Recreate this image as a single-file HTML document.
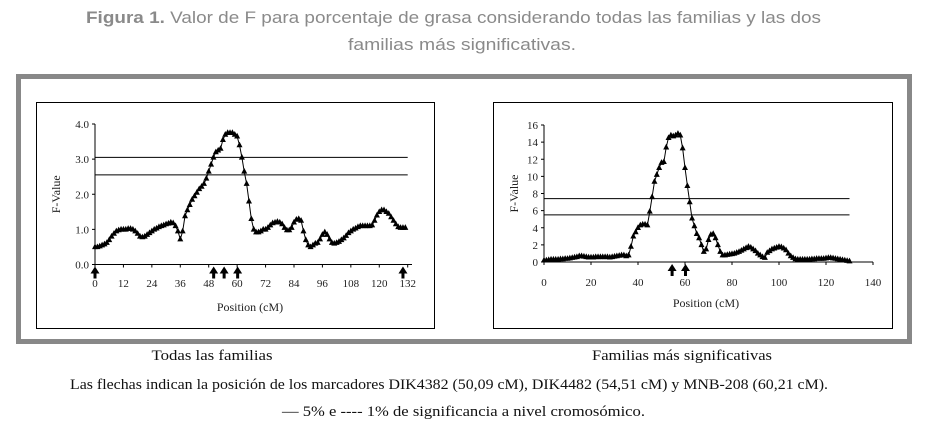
<!DOCTYPE html>
<html><head><meta charset="utf-8"><style>
html,body{margin:0;padding:0;background:#fff;}
svg{display:block;}
</style></head><body>
<svg id="fig" width="928" height="426" viewBox="0 0 928 426" xmlns="http://www.w3.org/2000/svg">
  <text x="86" y="23" textLength="735" lengthAdjust="spacingAndGlyphs" font-family="Liberation Sans, sans-serif" font-size="17" fill="#8a8a8a"><tspan font-weight="bold">Figura 1.</tspan> Valor de F para porcentaje de grasa considerando todas las familias y las dos</text>
  <text x="348" y="50" textLength="228" lengthAdjust="spacingAndGlyphs" font-family="Liberation Sans, sans-serif" font-size="17" fill="#8a8a8a">familias más significativas.</text>
  <rect x="18.5" y="76.5" width="891" height="265" fill="none" stroke="#888" stroke-width="5"/>
  <rect x="36.5" y="102.5" width="398" height="226" fill="#fff" stroke="#000" stroke-width="1"/>
  <rect x="493.5" y="102.5" width="399" height="226" fill="#fff" stroke="#000" stroke-width="1"/>
  <g id="left"></g>
  <g id="right"></g>
  <text x="212" y="360" text-anchor="middle" textLength="121" lengthAdjust="spacingAndGlyphs" font-family="Liberation Serif, serif" font-size="15" fill="#111">Todas las familias</text>
  <text x="682" y="360" text-anchor="middle" textLength="180" lengthAdjust="spacingAndGlyphs" font-family="Liberation Serif, serif" font-size="15" fill="#111">Familias más significativas</text>
  <text x="70" y="389" textLength="758" lengthAdjust="spacingAndGlyphs" font-family="Liberation Serif, serif" font-size="15" fill="#111">Las flechas indican la posición de los marcadores DIK4382 (50,09 cM), DIK4482 (54,51 cM) y MNB-208 (60,21 cM).</text>
  <text x="282" y="416" textLength="363" lengthAdjust="spacingAndGlyphs" font-family="Liberation Serif, serif" font-size="15" fill="#111">— 5% e ---- 1% de significancia a nivel cromosómico.</text>
</svg>
<script>
const leftPositions = [];
for (let i = 0; i <= 131; i++) leftPositions.push(i);
const leftValues = [0.5,0.5,0.52,0.55,0.58,0.62,0.7,0.8,0.88,0.95,0.98,1.0,1.0,1.0,1.02,1.02,1.0,0.95,0.88,0.8,0.78,0.8,0.85,0.9,0.95,1.0,1.03,1.07,1.1,1.12,1.15,1.17,1.2,1.18,1.1,0.95,0.72,0.95,1.38,1.55,1.7,1.85,1.95,2.05,2.15,2.22,2.3,2.45,2.65,2.85,3.05,3.2,3.25,3.3,3.55,3.7,3.75,3.75,3.75,3.7,3.65,3.4,3.05,2.65,2.3,1.8,1.3,1.0,0.92,0.92,0.95,1.0,1.0,1.05,1.12,1.18,1.2,1.22,1.2,1.15,1.05,0.98,0.98,1.05,1.2,1.28,1.3,1.25,0.95,0.7,0.55,0.5,0.55,0.6,0.62,0.72,0.85,0.92,0.85,0.72,0.62,0.6,0.62,0.65,0.7,0.75,0.82,0.9,0.95,1.0,1.03,1.07,1.1,1.1,1.1,1.1,1.1,1.12,1.25,1.4,1.5,1.55,1.55,1.5,1.45,1.35,1.25,1.15,1.07,1.05,1.05,1.05];
const leftTicks = [0,12,24,36,48,60,72,84,96,108,120,132];
const leftYTicks = [0,1,2,3,4];
const leftThresholds = [3.05,2.55];
const leftArrows = [0,50.09,54.51,60.21,130];

const rightPositions = [];
for (let i = 0; i <= 130; i++) rightPositions.push(i);
const rightValues = [0.2,0.2,0.25,0.3,0.3,0.3,0.3,0.35,0.35,0.4,0.4,0.45,0.5,0.55,0.6,0.7,0.7,0.65,0.6,0.55,0.55,0.55,0.6,0.6,0.6,0.6,0.6,0.6,0.55,0.6,0.65,0.7,0.75,0.8,0.8,0.7,0.8,1.8,3.0,3.5,4.0,4.3,4.4,4.4,4.3,5.9,7.6,9.4,10.2,11.0,11.6,11.7,13.4,14.5,14.8,14.7,14.8,15.0,14.8,13.3,11.0,8.9,7.0,5.1,4.2,3.3,2.8,2.0,1.2,1.5,2.6,3.2,3.3,2.8,2.0,1.2,0.8,0.8,0.85,0.9,0.95,1.0,1.1,1.2,1.35,1.5,1.65,1.8,1.7,1.5,1.3,1.0,0.8,0.6,0.5,1.1,1.3,1.5,1.6,1.7,1.8,1.75,1.6,1.4,1.0,0.7,0.5,0.35,0.3,0.3,0.3,0.3,0.3,0.3,0.35,0.35,0.4,0.4,0.4,0.4,0.45,0.5,0.5,0.45,0.4,0.35,0.3,0.25,0.2,0.15,0.1];
const rightTicks = [0,20,40,60,80,100,120,140];
const rightYTicks = [0,2,4,6,8,10,12,14,16];
const rightThresholds = [7.4,5.5];
const rightArrows = [54.51,60.21];

const NS = 'http://www.w3.org/2000/svg';
function mk(parent, tag, attrs) {
  const e = document.createElementNS(NS, tag);
  for (const k in attrs) e.setAttribute(k, attrs[k]);
  parent.appendChild(e);
  return e;
}

function drawChart(g, cfg) {
  const xs = v => cfg.x0 + (v - cfg.xmin) * (cfg.x1 - cfg.x0) / (cfg.xmax - cfg.xmin);
  const ys = v => cfg.y0 - (v - cfg.ymin) * (cfg.y0 - cfg.y1) / (cfg.ymax - cfg.ymin);
  const ya = mk(g, 'line', {x1: cfg.x0, y1: ys(cfg.ymax), x2: cfg.x0, y2: cfg.y0, stroke: '#000', 'stroke-width': 1});
  
  
  const xa = mk(g, 'line', {x1: cfg.x0, y1: cfg.y0, x2: cfg.xAxisEnd, y2: cfg.y0, stroke: '#000', 'stroke-width': 1});
  
  
  cfg.yTicks.forEach(t => {
    const tk = mk(g, 'line', {x1: cfg.x0 - 3, y1: ys(t), x2: cfg.x0, y2: ys(t), stroke: '#000'});
    
    
    const tx = mk(g, 'text', {x: cfg.x0 - 6, y: ys(t) + 4, 'text-anchor': 'end', 'font-family': 'Liberation Serif, serif', 'font-size': 11, fill: '#222'});
    tx.textContent = cfg.yFmt(t);
    
    
  });
  cfg.xTicks.forEach(t => {
    const tk = mk(g, 'line', {x1: xs(t), y1: cfg.y0, x2: xs(t), y2: cfg.y0 + 3, stroke: '#000'});
    
    
    const tx = mk(g, 'text', {x: xs(t), y: cfg.xLabelY, 'text-anchor': 'middle', 'font-family': 'Liberation Serif, serif', 'font-size': 11, fill: '#222'});
    tx.textContent = String(t);
    
    
  });
  cfg.thresholds.forEach(t => {
    const l = mk(g, 'line', {x1: cfg.x0, y1: ys(t), x2: xs(cfg.thrEnd), y2: ys(t), stroke: '#000', 'stroke-width': 1});
    
    
  });
  let d = '';
  cfg.pos.forEach((p, i) => { d += (i ? 'L' : 'M') + xs(p).toFixed(1) + ' ' + ys(cfg.vals[i]).toFixed(1); });
  const path = mk(g, 'path', {d: d, fill: 'none', stroke: '#000', 'stroke-width': 1});
  
  
  cfg.pos.forEach((p, i) => {
    const x = xs(p), y = ys(cfg.vals[i]);
    const m = mk(g, 'path', {d: `M${x} ${y - 3.5}L${x + 3} ${y + 2.2}L${x - 3} ${y + 2.2}Z`, fill: '#000'});
    
    
  });
  cfg.arrows.forEach(a => {
    const x = xs(a), y = cfg.y0 + 2;
    const ar = mk(g, 'path', {d: `M${x} ${y}L${x + 4.5} ${y + 7}L${x + 1.5} ${y + 7}L${x + 1.5} ${y + 12}L${x - 1.5} ${y + 12}L${x - 1.5} ${y + 7}L${x - 4.5} ${y + 7}Z`, fill: '#000'});
    
    
  });
  const xl = mk(g, 'text', {x: cfg.xTitleX, y: cfg.xTitleY, 'text-anchor': 'middle', 'font-family': 'Liberation Serif, serif', 'font-size': 12, fill: '#222'});
  xl.textContent = 'Position (cM)';
  
  
  const yl = mk(g, 'text', {x: 0, y: 0, transform: `translate(${cfg.yTitleX},${(cfg.y0 + ys(cfg.ymax)) / 2}) rotate(-90)`, 'text-anchor': 'middle', 'font-family': 'Liberation Serif, serif', 'font-size': 12, fill: '#222'});
  yl.textContent = 'F-Value';
  
  
}

drawChart(document.getElementById('left'), {
  x0: 95, x1: 407.7, xmin: 0, xmax: 132, xAxisEnd: 412,
  y0: 264.5, y1: 124, ymin: 0, ymax: 4,
  pos: leftPositions, vals: leftValues, xTicks: leftTicks, yTicks: leftYTicks,
  thresholds: leftThresholds, thrEnd: 132, arrows: leftArrows,
  yFmt: t => t.toFixed(1), xLabelY: 287, xTitleX: 250, xTitleY: 311, yTitleX: 60
});
drawChart(document.getElementById('right'), {
  x0: 544, x1: 873, xmin: 0, xmax: 140, xAxisEnd: 873,
  y0: 262, y1: 125, ymin: 0, ymax: 16,
  pos: rightPositions, vals: rightValues, xTicks: rightTicks, yTicks: rightYTicks,
  thresholds: rightThresholds, thrEnd: 130, arrows: rightArrows,
  yFmt: t => String(t), xLabelY: 286, xTitleX: 706, xTitleY: 307, yTitleX: 518
});
</script>
</body></html>
